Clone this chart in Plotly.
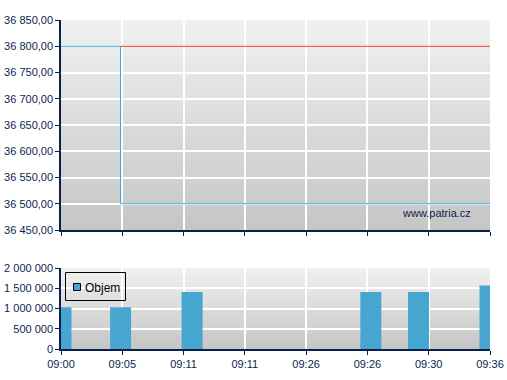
import plotly.graph_objects as go

# ---- data ----
tick_labels = ["09:00", "09:05", "09:11", "09:11", "09:26", "09:26", "09:30", "09:36"]
trade_minutes = [0, 5, 11, 26, 30, 36]          # minutes after 09:00
trade_prices = [36800, 36500, 36500, 36500, 36500, 36500]
ref_minutes = [5, 36]
ref_prices = [36800, 36800]
volumes = [1030000, 1030000, 1410000, 1410000, 1410000, 1570000]
price_ticks = [36450, 36500, 36550, 36600, 36650, 36700, 36750, 36800, 36850]
vol_ticks = [0, 500000, 1000000, 1500000, 2000000]
legend_label = "Objem"

span = 36
tick_pos = [i * span / (len(tick_labels) - 1) for i in range(len(tick_labels))]

NAVY = "#0b1f4f"
BAR = "#46a6cf"
LINE = "#2fa6dc"
RED = "#e4302a"
FONT = dict(family="Liberation Sans, Arial, sans-serif", size=11, color=NAVY)

W, H = 507, 380
L, R, T, B = 61, 17, 20, 31
PW, PH = W - L - R, H - T - B


def px(x):
    return (x - L) / PW


def py(y):
    return (H - B - y) / PH


fig = go.Figure()
fig.add_trace(go.Scatter(x=ref_minutes, y=ref_prices, mode="lines",
                         line=dict(color=RED, width=1), xaxis="x2", yaxis="y2",
                         showlegend=False, hoverinfo="skip"))
fig.add_trace(go.Scatter(x=trade_minutes, y=trade_prices, mode="lines",
                         line=dict(color=LINE, width=1, shape="hv"), xaxis="x2", yaxis="y2",
                         showlegend=False, hoverinfo="skip"))
fig.add_trace(go.Bar(x=trade_minutes, y=volumes, width=1.76, marker=dict(color=BAR, line=dict(width=0)),
                     xaxis="x", yaxis="y", showlegend=False, hoverinfo="skip"))

# gradient backgrounds (stacked rects, no seams)
shapes = []
N = 40


def grad(xref, yref, top=(240, 240, 240), bot=(198, 198, 198)):
    for i in range(N):
        t = i / (N - 1)
        c = [round(top[k] + (bot[k] - top[k]) * t) for k in range(3)]
        shapes.append(dict(type="rect", xref=xref, yref=yref, x0=0, x1=1, y0=0, y1=1 - i / N,
                           fillcolor="rgb(%d,%d,%d)" % tuple(c), line=dict(width=0), layer="below"))


grad("x domain", "y domain")
grad("x2 domain", "y2 domain")

# legend box drawn manually
shapes.append(dict(type="rect", xref="paper", yref="paper", x0=px(65.5), x1=px(125.5),
                   y0=py(300.5), y1=py(272.5), line=dict(color="black", width=1),
                   fillcolor="rgba(0,0,0,0)", layer="above"))
shapes.append(dict(type="rect", xref="paper", yref="paper", x0=px(73.5), x1=px(80.5),
                   y0=py(290.5), y1=py(283.5), line=dict(color="black", width=1),
                   fillcolor=BAR, layer="above"))

main_dom = [py(230), 1]
vol_dom = [0, py(268)]

axis_common = dict(showline=True, linecolor=NAVY, linewidth=1.5, ticks="outside", ticklen=4,
                   tickcolor=NAVY, tickwidth=1, gridcolor="white", gridwidth=1.5,
                   zeroline=False, tickfont=FONT, fixedrange=True, automargin=False)

fig.update_layout(
    width=W, height=H,
    margin=dict(l=L, r=R, t=T, b=B),
    paper_bgcolor="white", plot_bgcolor="rgba(0,0,0,0)",
    separators=", ",
    shapes=shapes,
    showlegend=False,
    xaxis=dict(domain=[0, 1], anchor="y", range=[0, span], tickvals=tick_pos, ticktext=tick_labels,
               **axis_common),
    yaxis=dict(domain=vol_dom, anchor="x", range=[0, 2000000], tickvals=vol_ticks,
               tickformat=",d", **axis_common),
    xaxis2=dict(domain=[0, 1], anchor="y2", range=[0, span], tickvals=tick_pos,
                showticklabels=False, **axis_common),
    yaxis2=dict(domain=main_dom, anchor="x2", range=[36450, 36850], tickvals=price_ticks,
                tickformat=",.2f", **axis_common),
    annotations=[
        dict(text="www.patria.cz", xref="paper", yref="paper",
             x=px(473), y=py(213), xanchor="right", yanchor="middle",
             showarrow=False, font=FONT),
        dict(text=legend_label, xref="paper", yref="paper",
             x=px(83), y=py(288), xanchor="left", yanchor="middle",
             showarrow=False, font=dict(family=FONT["family"], size=12, color="black")),
    ],
    hovermode=False,
)

fig.write_html("out.html")
